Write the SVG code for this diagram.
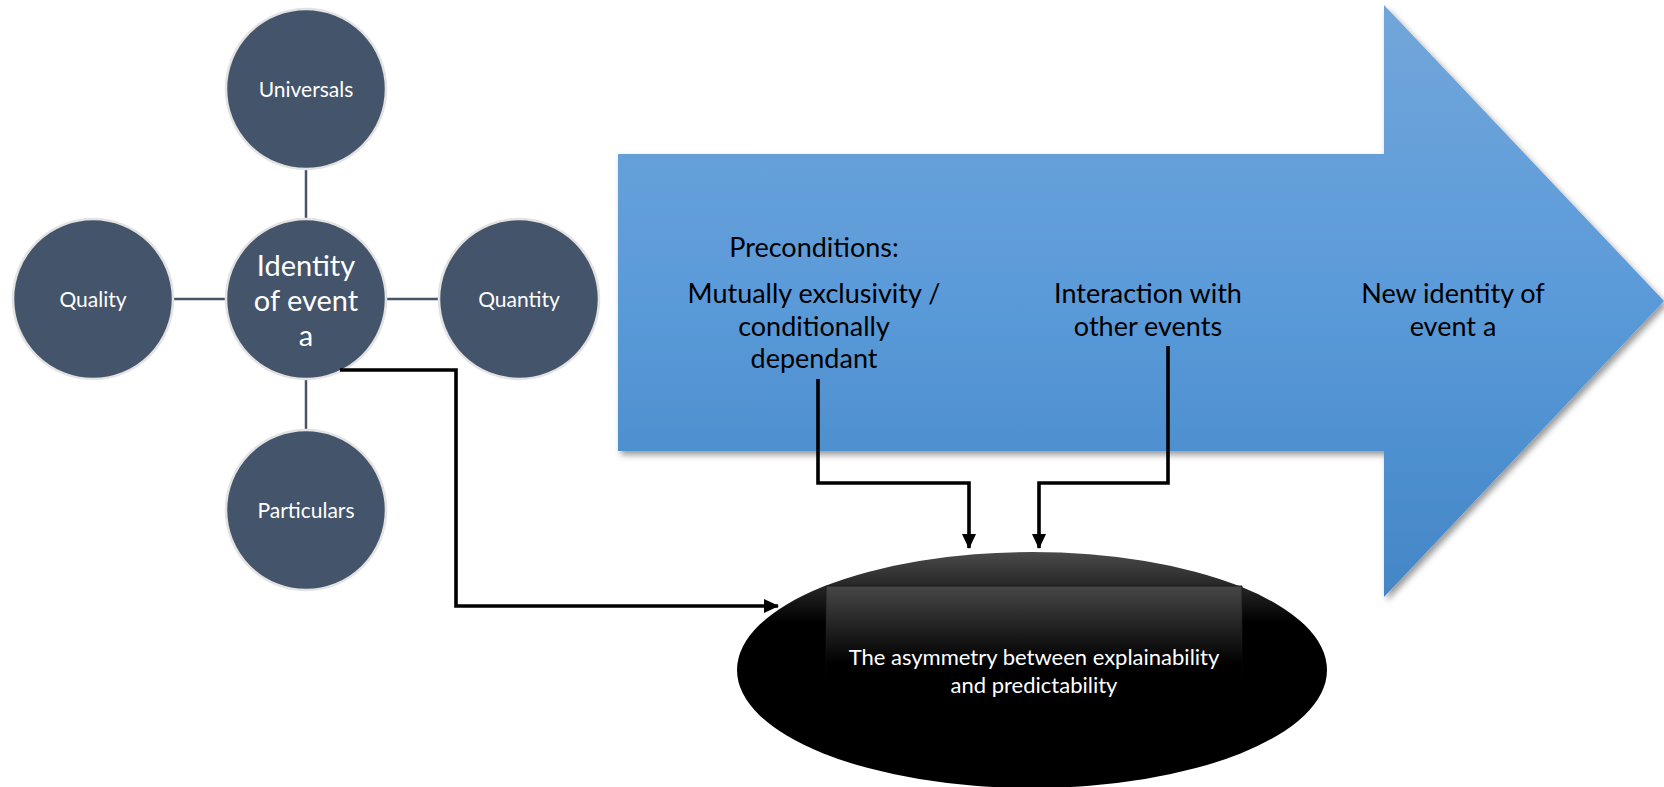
<svg xmlns="http://www.w3.org/2000/svg" width="1664" height="787" viewBox="0 0 1664 787">
<style>
.c{fill:#44546A;stroke:#E3E3E3;stroke-width:2.5}
.cl{stroke:#44546A;stroke-width:2.5;fill:none}
.ct{font-family:Lato,"Open Sans",sans-serif;fill:#fff;text-anchor:middle}
.at{font-family:Lato,"Open Sans",sans-serif;fill:#000;text-anchor:middle;font-size:27px}
.bl{stroke:#000;stroke-width:3.6;fill:none}
</style>
<defs>
<linearGradient id="ag" x1="0" y1="0" x2="0" y2="1">
<stop offset="0" stop-color="#72A6DA"/>
<stop offset="0.5" stop-color="#5A9AD9"/>
<stop offset="1" stop-color="#4386C6"/>
</linearGradient>
<linearGradient id="eg" x1="0" y1="0" x2="0" y2="1">
<stop offset="0" stop-color="#4A4A4A"/>
<stop offset="0.3" stop-color="#000"/>
<stop offset="1" stop-color="#000"/>
</linearGradient>
<linearGradient id="rg" x1="0" y1="0" x2="0" y2="1">
<stop offset="0" stop-color="#474747"/>
<stop offset="0.75" stop-color="#000"/>
<stop offset="1" stop-color="#000"/>
</linearGradient>
<linearGradient id="sg" x1="0" y1="0" x2="0" y2="1">
<stop offset="0" stop-color="#1A1A1A" stop-opacity="1"/>
<stop offset="1" stop-color="#1A1A1A" stop-opacity="0"/>
</linearGradient>
<filter id="sh" x="-5%" y="-5%" width="115%" height="115%">
<feDropShadow dx="3" dy="4" stdDeviation="3" flood-color="#000" flood-opacity="0.4"/>
</filter>
<marker id="ah" markerWidth="16" markerHeight="16" refX="14" refY="7" orient="auto" markerUnits="userSpaceOnUse">
<path d="M0,0 L15,7 L0,14 Z" fill="#000"/>
</marker>
</defs>

<g id="big-arrow">
<path d="M618,154 L1384,154 L1384,5 L1664,301 L1384,597 L1384,451 L618,451 Z" fill="url(#ag)" filter="url(#sh)"/>
<text class="at" x="814" y="257">Preconditions:</text>
<text class="at" x="814" y="303">Mutually exclusivity /</text>
<text class="at" x="814" y="336">conditionally</text>
<text class="at" x="814" y="368">dependant</text>
<text class="at" x="1148" y="303">Interaction with</text>
<text class="at" x="1148" y="336">other events</text>
<text class="at" x="1453" y="303">New identity of</text>
<text class="at" x="1453" y="336">event a</text>
</g>

<g id="spokes">
<line class="cl" x1="306" y1="170" x2="306" y2="219"/>
<line class="cl" x1="306" y1="379" x2="306" y2="430"/>
<line class="cl" x1="174" y1="299" x2="225" y2="299"/>
<line class="cl" x1="387" y1="299" x2="438" y2="299"/>
</g>

<g id="universals"><circle class="c" cx="306" cy="89" r="80"/><text class="ct" x="306" y="97" font-size="21">Universals</text></g>
<g id="quality"><circle class="c" cx="93" cy="299" r="80"/><text class="ct" x="93" y="307" font-size="21">Quality</text></g>
<g id="quantity"><circle class="c" cx="519" cy="299" r="80"/><text class="ct" x="519" y="307" font-size="21">Quantity</text></g>
<g id="particulars"><circle class="c" cx="306" cy="510" r="80"/><text class="ct" x="306" y="518" font-size="21">Particulars</text></g>
<g id="identity"><circle class="c" cx="306" cy="299" r="80"/>
<text class="ct" x="306" y="276" font-size="29">Identity</text>
<text class="ct" x="306" y="311" font-size="29">of event</text>
<text class="ct" x="306" y="346" font-size="29">a</text>
</g>

<g id="asymmetry">
<ellipse cx="1032" cy="670" rx="295" ry="118" fill="url(#eg)"/>
<rect x="826" y="586" width="416" height="104" fill="url(#rg)"/>
<line x1="826" y1="586" x2="1242" y2="586" stroke="#1A1A1A" stroke-width="1"/>
<rect x="825.5" y="586" width="1" height="100" fill="url(#sg)"/>
<rect x="1241.5" y="586" width="1" height="100" fill="url(#sg)"/>
<text class="ct" x="1034" y="665" font-size="22" fill="#F2F2F2">The asymmetry between explainability</text>
<text class="ct" x="1034" y="693" font-size="22" fill="#F2F2F2">and predictability</text>
</g>

<g id="connectors">
<path class="bl" d="M340,370 L456,370 L456,606 L778,606" marker-end="url(#ah)"/>
<path class="bl" d="M818,379 L818,483 L969,483 L969,548" marker-end="url(#ah)"/>
<path class="bl" d="M1168,346 L1168,483 L1039,483 L1039,548" marker-end="url(#ah)"/>
</g>
</svg>
